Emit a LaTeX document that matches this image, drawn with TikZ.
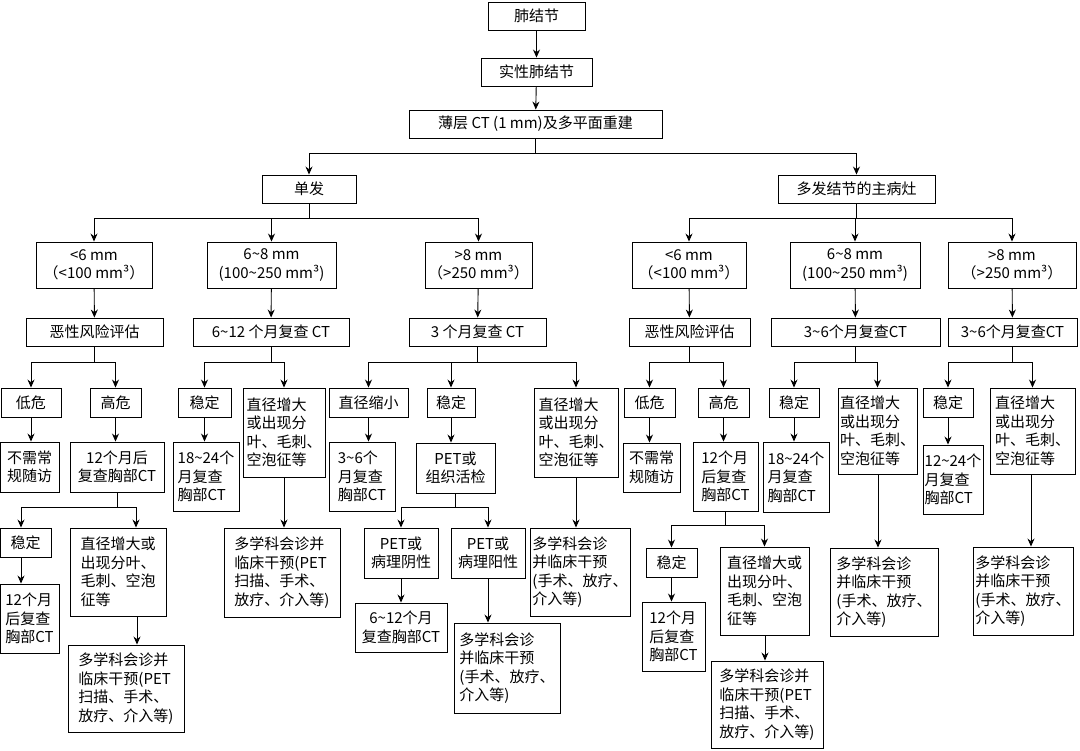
\documentclass[tikz,border=0pt]{standalone}
\usepackage{fontspec}
\setmainfont{Noto Sans CJK SC}
\usetikzlibrary{arrows.meta}
\newcommand\bx[7][]{\node[box,#1,minimum width={(#5-#3)*1pt},minimum height={(#6-#4)*1pt}] (#2) at ({(#3+#5)/2},{(#4+#6)/2}) {#7};}
\begin{document}
\begin{tikzpicture}[x=1pt,y=-1pt,
 box/.style={draw,line width=0.9pt,align=center,inner sep=1pt,font=\fontsize{15}{18.5}\selectfont},
 lft/.style={align=left},
 arr/.style={line width=0.9pt,-{Stealth[length=8pt,width=7pt]}}]
\useasboundingbox (0,0) rectangle (1080,751);
\fill[white] (0,0) rectangle (1080,751);
\bx{a}{488}{2}{585}{30}{肺结节}
\bx{b}{481}{58}{592}{86}{实性肺结节}
\bx{c}{409}{110}{662}{138}{薄层 CT (1 mm)及多平面重建}
\bx{d1}{262}{175}{356}{203}{单发}
\bx{d2}{778}{175}{935}{203}{多发结节的主病灶}
\bx{s1}{36}{242}{152}{288}{<6 mm\\（<100 mm³）}
\bx{s2}{207}{242}{336}{288}{6\textasciitilde 8 mm\\(100\textasciitilde 250 mm³)}
\bx{s3}{425}{242}{532}{288}{>8 mm\\（>250 mm³）}
\bx{m1}{632}{242}{746}{288}{<6 mm\\（<100 mm³）}
\bx{m2}{790}{242}{920}{288}{6\textasciitilde 8 mm\\(100\textasciitilde 250 mm³)}
\bx{m3}{948}{242}{1076}{288}{>8 mm\\（>250 mm³）}
\bx{t1}{26}{318}{163}{346}{恶性风险评估}
\bx{t2}{193}{318}{349}{346}{6\textasciitilde 12 个月复查 CT}
\bx{t3}{409}{318}{546}{346}{3 个月复查 CT}
\bx{u1}{629}{318}{750}{346}{恶性风险评估}
\bx{u2}{771}{318}{940}{346}{3\textasciitilde 6个月复查CT}
\bx{u3}{948}{318}{1077}{346}{3\textasciitilde 6个月复查CT}
% left <6
\bx{l1}{1}{388}{61}{417}{低危}
\bx{l2}{90}{388}{141}{417}{高危}
\bx{l3}{0}{442}{59}{492}{不需常\\规随访}
\bx{l4}{70}{442}{164}{492}{12个月后\\复查胸部CT}
\bx{l5}{0}{528}{51}{557}{稳定}
\bx[lft]{l6}{70}{528}{166}{616}{直径增大或\\出现分叶、\\毛刺、空泡\\征等}
\bx[lft]{l7}{0}{584}{59}{653}{12个月\\后复查\\胸部CT}
\bx[lft]{l8}{68}{645}{184}{732}{多学科会诊并\\临床干预(PET\\扫描、手术、\\放疗、介入等)}
% left 6-8
\bx{k1}{178}{388}{231}{417}{稳定}
\bx[lft]{k2}{243}{388}{325}{477}{直径增大\\或出现分\\叶、毛刺、\\空泡征等}
\bx[lft]{k3}{173}{442}{239}{511}{18\textasciitilde 24个\\月复查\\胸部CT}
\bx[lft]{k4}{224}{528}{340}{617}{多学科会诊并\\临床干预(PET\\扫描、手术、\\放疗、介入等)}
% left >8
\bx{j1}{329}{388}{408}{417}{直径缩小}
\bx{j2}{427}{388}{475}{417}{稳定}
\bx[lft]{j3}{534}{388}{618}{477}{直径增大\\或出现分\\叶、毛刺、\\空泡征等}
\bx[lft]{j4}{329}{442}{395}{511}{3\textasciitilde 6个\\月复查\\胸部CT}
\bx{j5}{416}{443}{495}{493}{PET或\\组织活检}
\bx{j6}{364}{528}{438}{578}{PET或\\病理阴性}
\bx{j7}{451}{528}{525}{578}{PET或\\病理阳性}
\bx{j8}{355}{603}{447}{652}{6\textasciitilde 12个月\\复查胸部CT}
\bx[lft]{j9}{454}{623}{560}{713}{多学科会诊\\并临床干预\\(手术、放疗、\\介入等)}
\bx[lft]{j10}{530}{528}{630}{616}{多学科会诊\\并临床干预\\(手术、放疗、\\介入等)}
% right <6
\bx{r1}{624}{388}{675}{417}{低危}
\bx{r2}{698}{388}{749}{417}{高危}
\bx{r3}{623}{443}{680}{492}{不需常\\规随访}
\bx[lft]{r4}{693}{442}{758}{511}{12个月\\后复查\\胸部CT}
\bx{r5}{646}{548}{697}{577}{稳定}
\bx[lft]{r6}{720}{547}{809}{635}{直径增大或\\出现分叶、\\毛刺、空泡\\征等}
\bx[lft]{r7}{642}{602}{705}{671}{12个月\\后复查\\胸部CT}
\bx[lft]{r8}{711}{661}{823}{748}{多学科会诊并\\临床干预(PET\\扫描、手术、\\放疗、介入等)}
% right 6-8
\bx{q1}{769}{388}{819}{417}{稳定}
\bx[lft]{q2}{838}{388}{917}{474}{直径增大\\或出现分\\叶、毛刺、\\空泡征等}
\bx[lft]{q3}{763}{442}{829}{512}{18\textasciitilde 24个\\月复查\\胸部CT}
\bx[lft]{q4}{830}{548}{938}{636}{多学科会诊\\并临床干预\\(手术、放疗、\\介入等)}
% right >8
\bx{p1}{923}{388}{973}{417}{稳定}
\bx[lft]{p2}{990}{388}{1075}{474}{直径增大\\或出现分\\叶、毛刺、\\空泡征等}
\bx[lft]{p3}{923}{445}{983}{514}{12\textasciitilde 24个\\月复查\\胸部CT}
\bx[lft]{p4}{973}{547}{1073}{635}{多学科会诊\\并临床干预\\(手术、放疗、\\介入等)}
% connectors
\draw[arr] (a) -- (b);
\draw[arr] (b) -- (c);
\draw[arr] (c.south) -- ++(0,15) -| (d1.north);
\draw[arr] (c.south) -- ++(0,15) -| (d2.north);
\foreach \p/\c in {d1/s1,d1/s2,d1/s3,d2/m1,d2/m2,d2/m3}
  \draw[arr] (\p.south) -- ++(0,15) -| (\c.north);
\foreach \p/\c in {s1/t1,s2/t2,s3/t3,m1/u1,m2/u2,m3/u3}
  \draw[arr] (\p) -- (\c);
\foreach \p/\c in {t1/l1,t1/l2,t2/k1,t2/k2,t3/j1,t3/j2,t3/j3,u1/r1,u1/r2,u2/q1,u2/q2,u3/p1,u3/p2}
  \draw[arr] (\p.south) -- ++(0,16) -| (\c.north);
\foreach \p/\c in {l1/l3,l2/l4,k1/k3,j1/j4,j2/j5,j6/j8,r1/r3,r2/r4,q1/q3,p1/p3,r5/r7}
  \draw[arr] (\p.south) -- (\p.south |- \c.north);
\draw[arr] (l5.south -| 21,0) -- (l7.north -| 21,0);
\draw[arr] (l4.south) -- ++(0,15) -| (l5.north -| 21,0);
\draw[arr] (l4.south) -- ++(0,15) -| (l6.north -| 136,0);
\foreach \p/\c in {j5/j6,j5/j7,r4/r5,r4/r6}
  \draw[arr] (\p.south) -- ++(0,14) -| (\c.north);
\draw[arr] (k2.south -| 284,0) -- (k4.north -| 284,0);
\draw[arr] (j3.south) -- (j3.south |- j10.north);
\draw[arr] (q2.south -| 878,0) -- (q4.north -| 878,0);
\draw[arr] (p2.south -| 1031,0) -- (p4.north -| 1031,0);
\draw[arr] (l6.south -| 137,0) -- (l8.north -| 137,0);
\draw[arr] (r6.south -| 765,0) -- (r8.north -| 765,0);
\draw[arr] (j7.south -| 488,0) -- (j9.north -| 488,0);
\end{tikzpicture}
\end{document}
